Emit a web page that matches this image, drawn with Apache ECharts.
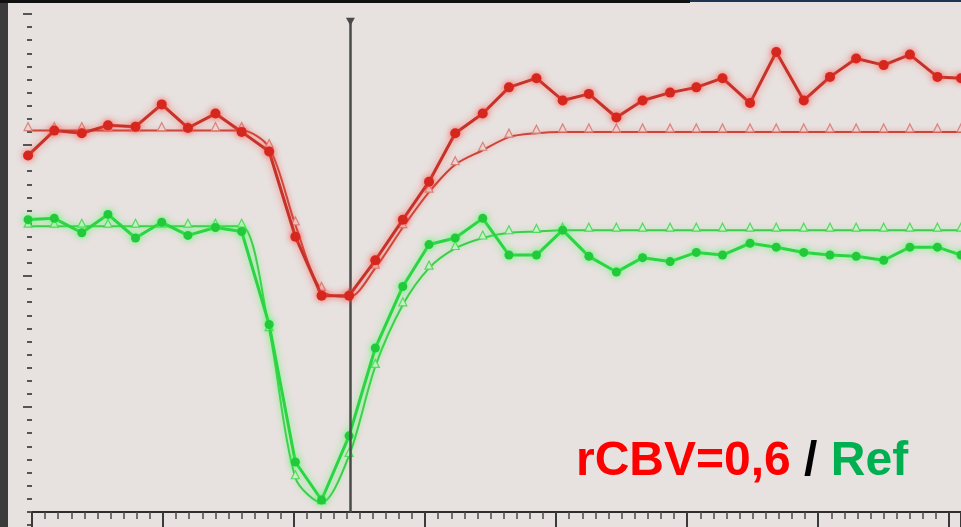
<!DOCTYPE html>
<html>
<head>
<meta charset="utf-8">
<script src="https://cdn.jsdelivr.net/npm/echarts@6/dist/echarts.min.js"></script>
<style>
html,body{margin:0;padding:0;background:#e7e1df;}
#chart{width:961px;height:527px;}
</style>
</head>
<body>
<div id="chart"></div>
<script>
// acquisition times (s)
const times = [-0.3, 1.7, 3.8, 5.8, 7.9, 9.9, 11.9, 14.0, 16.0, 18.1, 20.1, 22.1, 24.2, 26.2, 28.3, 30.3, 32.3, 34.4,
  36.4, 38.5, 40.5, 42.5, 44.6, 46.6, 48.7, 50.7, 52.7, 54.8, 56.8, 58.9, 60.9, 62.9, 65.0, 67.0, 69.1, 70.9];
// lesion (rCBV = 0,6) signal, measured
const lesionSignal = [29.2, 31.1, 30.9, 31.5, 31.4, 33.1, 31.3, 32.4, 31.0, 29.5, 23.0, 18.5, 18.5, 21.2, 24.3, 27.2, 30.9, 32.4,
  34.4, 35.1, 33.4, 33.9, 32.1, 33.4, 34.0, 34.4, 35.1, 33.2, 37.1, 33.4, 35.2, 36.6, 36.1, 36.9, 35.2, 35.1];
// lesion fitted curve
const lesionFit = [31.1, 31.1, 31.1, 31.1, 31.1, 31.1, 31.1, 31.1, 31.1, 29.8, 23.9, 18.9, 18.4, 20.6, 23.7, 26.4, 28.5, 29.6,
  30.6, 30.9, 31.0, 31.0, 31.0, 31.0, 31.0, 31.0, 31.0, 31.0, 31.0, 31.0, 31.0, 31.0, 31.0, 31.0, 31.0, 31.0];
// reference signal, measured
const refSignal = [24.3, 24.4, 23.3, 24.7, 22.9, 24.1, 23.1, 23.7, 23.4, 16.3, 5.8, 2.9, 7.8, 14.5, 19.2, 22.4, 22.9, 24.4,
  21.6, 21.6, 23.5, 21.5, 20.3, 21.4, 21.1, 21.8, 21.6, 22.5, 22.2, 21.8, 21.6, 21.5, 21.2, 22.2, 22.2, 21.6];
// reference fitted curve
const refFit = [23.8, 23.8, 23.8, 23.8, 23.8, 23.8, 23.8, 23.8, 23.8, 15.9, 4.6, 2.7, 6.3, 13.1, 17.8, 20.6, 22.1, 22.9,
  23.3, 23.4, 23.5, 23.5, 23.5, 23.5, 23.5, 23.5, 23.5, 23.5, 23.5, 23.5, 23.5, 23.5, 23.5, 23.5, 23.5, 23.5];
// cursor position (s) and its vertical extent
const cursorTime = 24.3;
const cursorRange = [1.95, 39.4];
// annotation
const labelParts = ['rCBV=0,6', '/', 'Ref'];

const BG = '#e7e1df';
const FONT = 'Liberation Sans, Arial, sans-serif';
const pair = (arr) => times.map((t, i) => [t, arr[i]]);

const chart = echarts.init(document.getElementById('chart'), null, {renderer: 'canvas'});
chart.setOption({
  backgroundColor: BG,
  animation: false,
  title: {
    text: '{r|' + labelParts[0] + '} {k|' + labelParts[1] + '} {g|' + labelParts[2] + '}',
    left: 571,
    top: 433,
    textStyle: {
      fontFamily: FONT,
      fontSize: 48,
      fontWeight: 'bold',
      color: '#000',
      rich: {
        r: {color: '#ff0000', fontSize: 48, fontWeight: 'bold', fontFamily: FONT},
        k: {color: '#000000', fontSize: 48, fontWeight: 'bold', fontFamily: FONT},
        g: {color: '#00b050', fontSize: 48, fontWeight: 'bold', fontFamily: FONT}
      }
    }
  },
  grid: {left: 32, right: 0, top: 14, bottom: -11, outerBoundsMode: 'none'},
  xAxis: {
    type: 'value', min: 0, max: 70.9, interval: 10,
    offset: -26,
    axisLine: {show: true, lineStyle: {color: '#2e2e2e', width: 2}},
    axisTick: {show: true, length: 15, lineStyle: {color: '#3a3a3a', width: 2}},
    minorTick: {show: true, splitNumber: 10, length: 7, lineStyle: {color: '#4a4a4a', width: 1.5}},
    axisLabel: {show: false},
    splitLine: {show: false}
  },
  yAxis: {
    type: 'value', min: 0, max: 40, interval: 10,
    axisLine: {show: false},
    axisTick: {show: true, length: 9, lineStyle: {color: '#555', width: 2}},
    minorTick: {show: true, splitNumber: 10, length: 5, lineStyle: {color: '#555', width: 2}},
    axisLabel: {show: false},
    splitLine: {show: false}
  },
  graphic: [
    {type: 'rect', shape: {x: 0, y: 0, width: 8, height: 527}, style: {fill: '#3b3b3b'}, z: 100},
    {type: 'rect', shape: {x: 0, y: 0, width: 690, height: 3}, style: {fill: '#111'}, z: 100},
    {type: 'rect', shape: {x: 690, y: 0, width: 271, height: 2}, style: {fill: '#1c3550'}, z: 100}
  ],
  series: [
    {
      name: 'Ref fit', type: 'line', data: pair(refFit), smooth: 0.3, clip: false,
      symbol: 'triangle', symbolSize: 8, symbolOffset: [0, -3],
      itemStyle: {color: '#c9f0c8', borderColor: '#55d860', borderWidth: 1.2},
      lineStyle: {color: '#3fcc4c', width: 2, shadowColor: 'rgba(90,255,100,0.6)', shadowBlur: 5},
      z: 2
    },
    {
      name: 'Ref', type: 'line', data: pair(refSignal), clip: false,
      symbol: 'circle', symbolSize: 9,
      itemStyle: {color: '#22c93a', shadowColor: 'rgba(60,255,80,0.8)', shadowBlur: 6},
      lineStyle: {color: '#2bd443', width: 3, shadowColor: 'rgba(70,255,90,0.7)', shadowBlur: 7},
      z: 3
    },
    {
      name: 'Lesion fit', type: 'line', data: pair(lesionFit), smooth: 0.3, clip: false,
      symbol: 'triangle', symbolSize: 8, symbolOffset: [0, -4],
      itemStyle: {color: '#eed2cf', borderColor: '#d8847c', borderWidth: 1.2},
      lineStyle: {color: '#c8463c', width: 2, shadowColor: 'rgba(255,110,100,0.6)', shadowBlur: 5},
      z: 4
    },
    {
      name: 'Lesion', type: 'line', data: pair(lesionSignal), clip: false,
      symbol: 'circle', symbolSize: 10,
      itemStyle: {color: '#d6271f', shadowColor: 'rgba(255,70,60,0.8)', shadowBlur: 6},
      lineStyle: {color: '#c4332a', width: 3, shadowColor: 'rgba(255,80,70,0.7)', shadowBlur: 7},
      markLine: {
        silent: true, symbol: ['none', 'none'],
        label: {show: false},
        lineStyle: {color: '#4a4a4a', width: 2.5, type: 'solid'},
        data: [[{coord: [cursorTime, cursorRange[0]]}, {coord: [cursorTime, cursorRange[1]]}]]
      },
      markPoint: {
        silent: true,
        symbol: 'triangle', symbolRotate: 180, symbolSize: [9, 8],
        itemStyle: {color: '#4a4a4a'},
        label: {show: false},
        data: [{coord: [cursorTime, cursorRange[1]]}]
      },
      z: 5
    }
  ]
});
</script>
</body>
</html>
